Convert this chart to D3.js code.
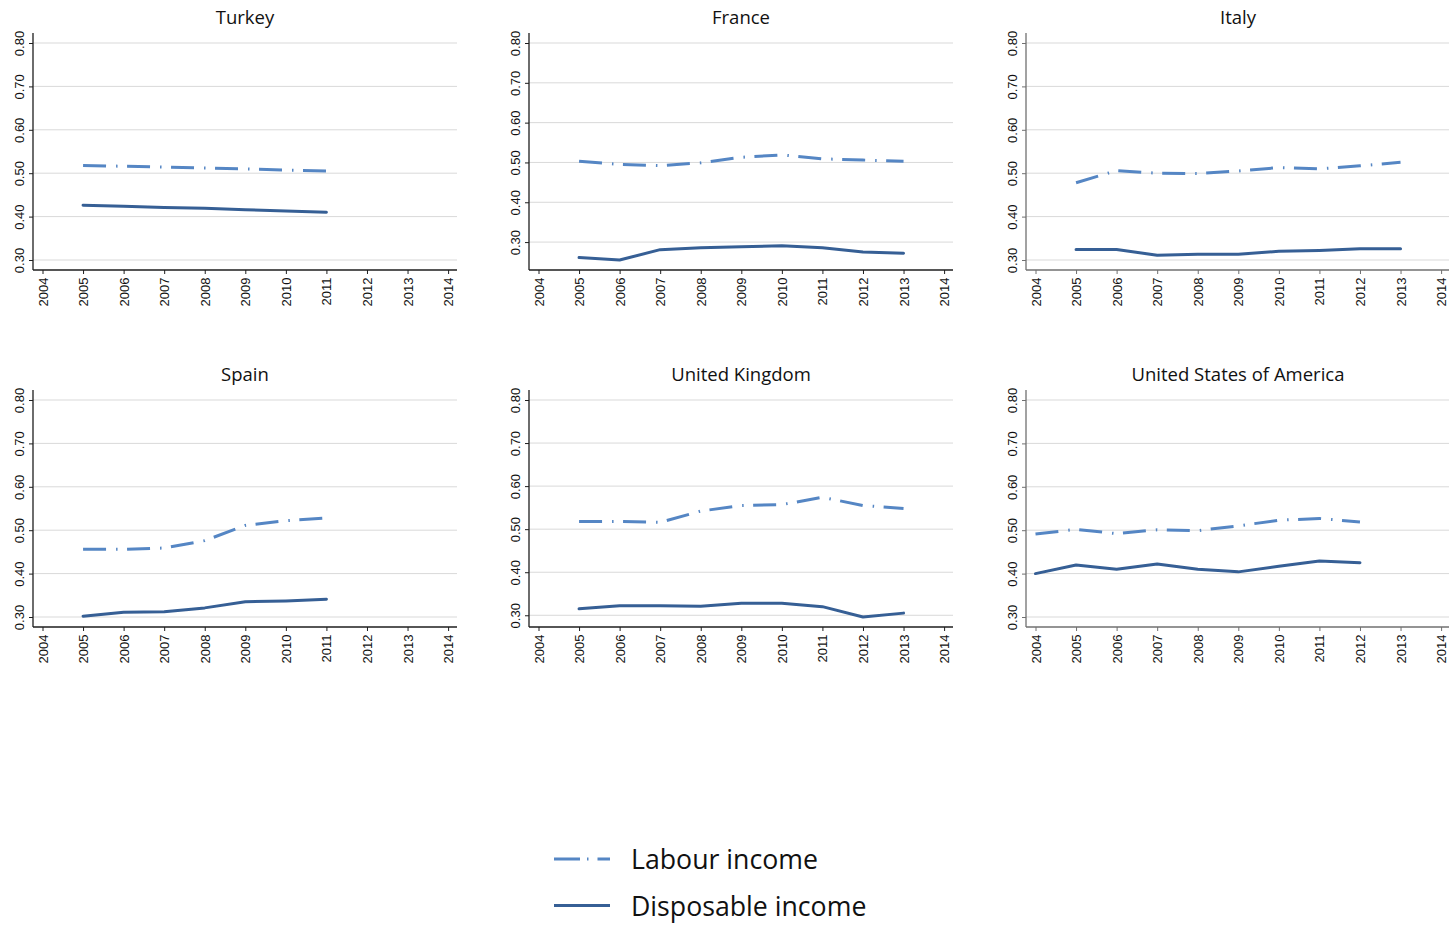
<!DOCTYPE html>
<html>
<head>
<meta charset="utf-8">
<script src="https://cdn.jsdelivr.net/npm/d3@7"></script>
<style>
  html, body { margin: 0; padding: 0; background: #fff; }
  svg { display: block; }
</style>
</head>
<body>
<svg id="chart" width="1449" height="925"></svg>
<script>
// ---- data -------------------------------------------------------------
const countries = ["Turkey", "France", "Italy", "Spain", "United Kingdom", "United States of America"];
const yearTicks = [2004, 2005, 2006, 2007, 2008, 2009, 2010, 2011, 2012, 2013, 2014];
const valueTicks = [0.30, 0.40, 0.50, 0.60, 0.70, 0.80];
const firstYear = [2005, 2005, 2005, 2005, 2005, 2004];

const labourTurkey = [0.518, 0.516, 0.514, 0.512, 0.510, 0.507, 0.505];
const disposableTurkey = [0.426, 0.424, 0.421, 0.419, 0.416, 0.413, 0.410];

const labourFrance = [0.503, 0.495, 0.492, 0.499, 0.513, 0.519, 0.509, 0.506, 0.503];
const disposableFrance = [0.261, 0.255, 0.281, 0.286, 0.288, 0.291, 0.286, 0.275, 0.272];

const labourItaly = [0.478, 0.506, 0.500, 0.499, 0.505, 0.513, 0.510, 0.517, 0.525];
const disposableItaly = [0.324, 0.324, 0.311, 0.313, 0.313, 0.320, 0.322, 0.326, 0.326];

const labourSpain = [0.456, 0.456, 0.459, 0.476, 0.511, 0.522, 0.528];
const disposableSpain = [0.302, 0.311, 0.312, 0.321, 0.335, 0.337, 0.341];

const labourUK = [0.518, 0.518, 0.516, 0.542, 0.555, 0.557, 0.574, 0.555, 0.548];
const disposableUK = [0.315, 0.322, 0.322, 0.321, 0.328, 0.328, 0.320, 0.296, 0.305];

const labourUSA = [0.491, 0.502, 0.492, 0.501, 0.499, 0.510, 0.523, 0.527, 0.519];
const disposableUSA = [0.400, 0.420, 0.410, 0.422, 0.410, 0.404, 0.417, 0.429, 0.425];

const labourSeries = [labourTurkey, labourFrance, labourItaly, labourSpain, labourUK, labourUSA];
const disposableSeries = [disposableTurkey, disposableFrance, disposableItaly, disposableSpain, disposableUK, disposableUSA];

const seriesNames = ["Labour income", "Disposable income"];

// ---- styling ----------------------------------------------------------
const labourColor = "#5586c4";
const disposableColor = "#365f95";
const labourDash = "23,10,1.5,9.5";
const gridColor = "#d9d9d9";
const tickFont = "'Liberation Sans', Arial, sans-serif";
const titleFont = "'Open Sans', 'Noto Sans', sans-serif";

const svg = d3.select("#chart");

const panelLefts = [33, 529, 1026];
const panelTops = [33, 390];
const panelWidth = 424;
const panelHeight = 237;
const pad = 10;

countries.forEach((name, i) => {
  const col = i % 3, row = Math.floor(i / 3);
  const left = panelLefts[col], top = panelTops[row];
  const bottom = top + panelHeight, right = left + panelWidth;
  const axisColor = col === 2 ? "#707070" : "#1e1e1e";

  const years = labourSeries[i].map((_, k) => firstYear[i] + k);
  const labour = years.map((y, k) => ({ year: y, v: labourSeries[i][k] }));
  const disposable = years.map((y, k) => ({ year: y, v: disposableSeries[i][k] }));

  const lo = Math.min(0.30, d3.min(labourSeries[i]), d3.min(disposableSeries[i]));
  const x = d3.scaleLinear().domain([2004, 2014]).range([left + 9.5, left + 9.5 + 405.6]);
  const y = d3.scaleLinear().domain([lo, 0.80]).range([bottom - pad, top + pad]);

  const g = svg.append("g");

  // title
  g.append("text")
    .attr("x", (left + right) / 2)
    .attr("y", top - 9.5)
    .attr("text-anchor", "middle")
    .attr("font-family", titleFont)
    .attr("font-size", 18.5)
    .attr("fill", "#111")
    .text(name);

  // horizontal gridlines
  g.selectAll("line.grid").data(valueTicks).enter().append("line")
    .attr("class", "grid")
    .attr("x1", left).attr("x2", right)
    .attr("y1", d => y(d)).attr("y2", d => y(d))
    .attr("stroke", gridColor).attr("stroke-width", 1);

  // y axis
  const yAxis = d3.axisLeft(y).tickValues(valueTicks).tickSize(4).tickFormat(d3.format(".2f"));
  const ya = g.append("g").attr("transform", `translate(${left},0)`).call(yAxis);
  ya.select(".domain").attr("d", `M0,${top}V${bottom}`).attr("stroke", axisColor).attr("stroke-width", 1.3);
  ya.selectAll(".tick line").attr("stroke", axisColor);
  ya.selectAll(".tick text")
    .attr("font-family", tickFont).attr("font-size", 13).attr("fill", "#111")
    .attr("x", null).attr("dy", null)
    .attr("transform", "translate(-9,0) rotate(-90)")
    .attr("text-anchor", "middle");

  // x axis
  const xAxis = d3.axisBottom(x).tickValues(yearTicks).tickSize(4).tickFormat(d3.format("d"));
  const xa = g.append("g").attr("transform", `translate(0,${bottom})`).call(xAxis);
  xa.select(".domain").attr("d", `M${left},0H${right}`).attr("stroke", axisColor).attr("stroke-width", 1.3);
  xa.selectAll(".tick line").attr("stroke", axisColor);
  xa.selectAll(".tick text")
    .attr("font-family", tickFont).attr("font-size", 13).attr("fill", "#111")
    .attr("y", null).attr("dy", null)
    .attr("transform", "translate(4.5,7.5) rotate(-90)")
    .attr("text-anchor", "end");

  const line = d3.line().x(d => x(d.year)).y(d => y(d.v));

  g.append("path").datum(labour)
    .attr("d", line)
    .attr("fill", "none")
    .attr("stroke", labourColor)
    .attr("stroke-width", 3)
    .attr("stroke-dasharray", labourDash)
    .attr("stroke-linejoin", "round");

  g.append("path").datum(disposable)
    .attr("d", line)
    .attr("fill", "none")
    .attr("stroke", disposableColor)
    .attr("stroke-width", 3)
    .attr("stroke-linejoin", "round")
    .attr("stroke-linecap", "round");
});

// ---- legend -----------------------------------------------------------
const legend = svg.append("g");
const legendRows = [
  { name: seriesNames[0], color: labourColor, dash: "26,7,1.5,9", y: 859, ty: 868.5 },
  { name: seriesNames[1], color: disposableColor, dash: null, y: 905.5, ty: 915.5 }
];
legendRows.forEach(r => {
  legend.append("line")
    .attr("x1", 554).attr("x2", 610)
    .attr("y1", r.y).attr("y2", r.y)
    .attr("stroke", r.color).attr("stroke-width", 3)
    .attr("stroke-dasharray", r.dash);
  legend.append("text")
    .attr("x", 631).attr("y", r.ty)
    .attr("font-family", titleFont)
    .attr("font-size", 26.7)
    .attr("fill", "#111")
    .text(r.name);
});
</script>
</body>
</html>
